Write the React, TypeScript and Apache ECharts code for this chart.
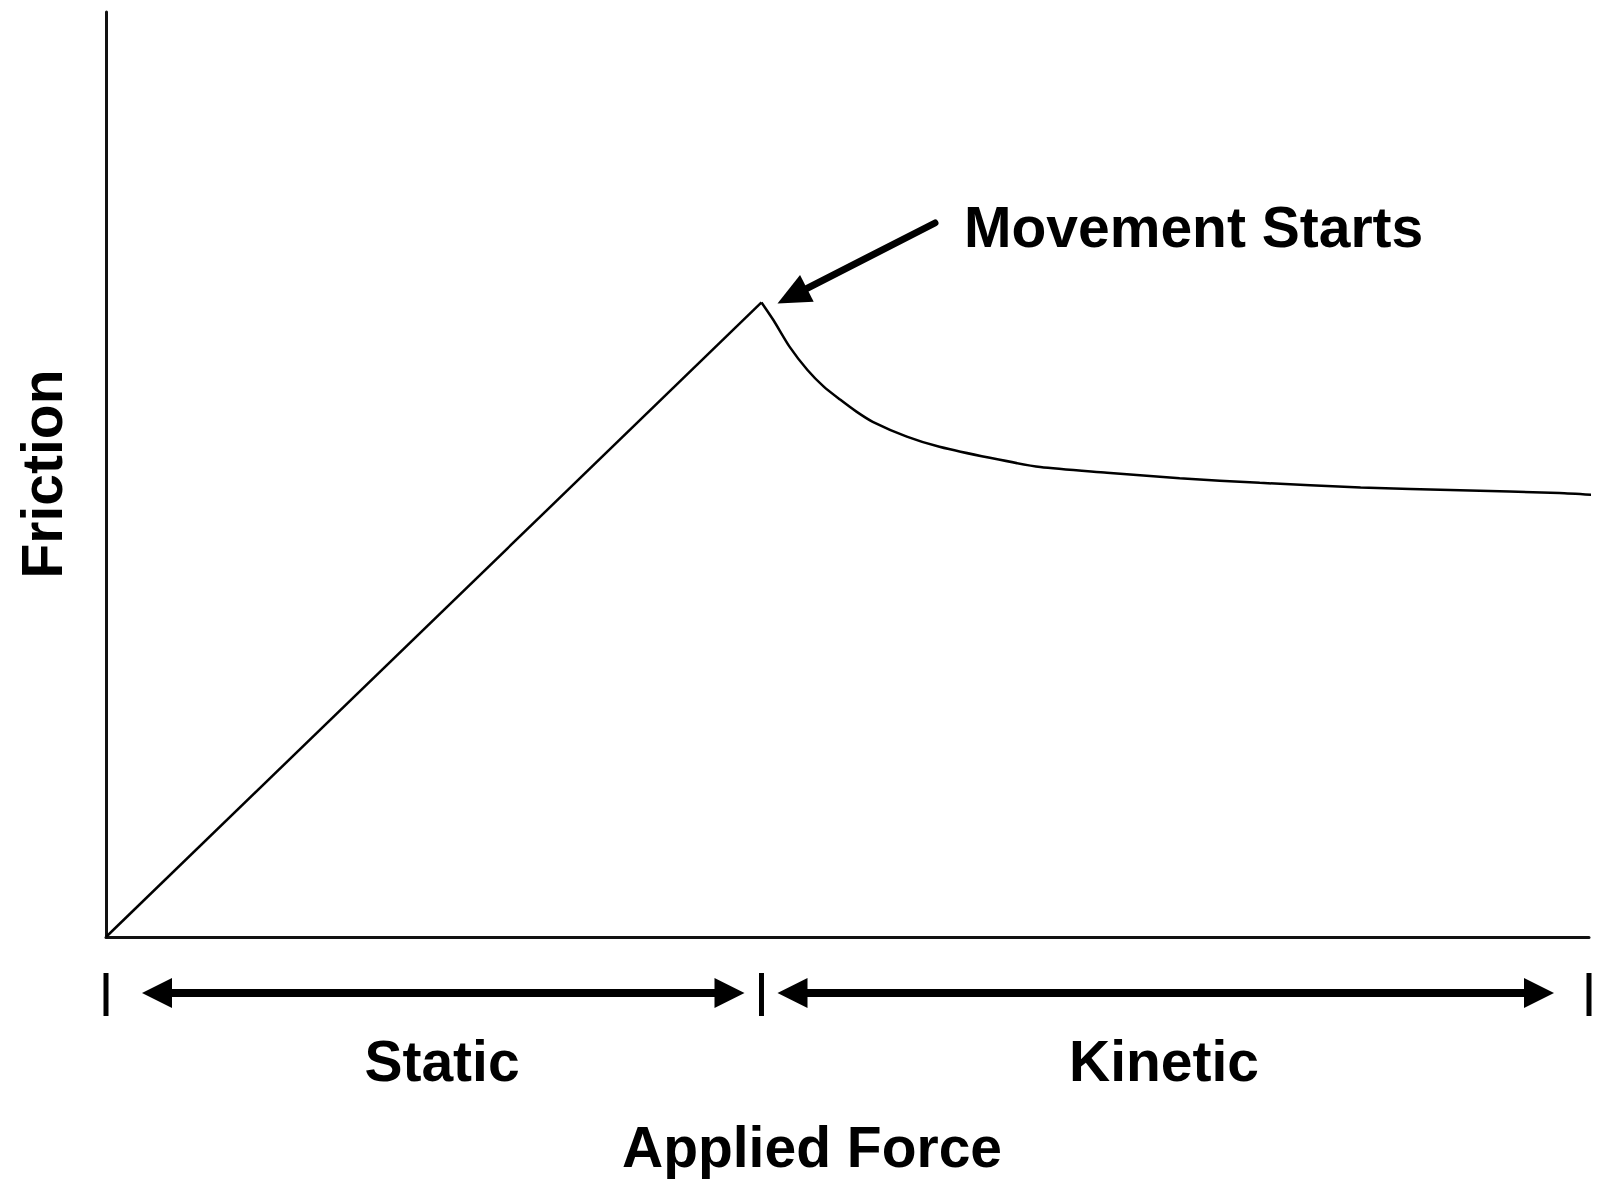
import React, { useEffect, useRef } from "react";
import * as echarts from "echarts";

// Applied force (x, 0–100) and friction (y, 0–100)
const force = [0, 44.2, 45.0, 46.1, 47.3, 48.4, 49.5, 50.6, 51.7, 54.0, 56.2, 59.6, 63.0, 67.5, 72.4, 77.8, 84.6, 91.3, 98.0, 100.2];
const friction = [0, 68.6, 66.7, 63.8, 61.3, 59.5, 58.1, 56.8, 55.7, 54.1, 53.0, 51.8, 50.8, 50.2, 49.6, 49.1, 48.6, 48.3, 48.0, 47.8];
const peakIndex = 1;
const regionLabels = ["Static", "Kinetic"];
const xTitle = "Applied Force";
const yTitle = "Friction";
const annotation = "Movement Starts";

const FONT = "'Liberation Sans', Arial, Helvetica, sans-serif";

export default function App() {
  const ref = useRef<HTMLDivElement>(null);
  useEffect(() => {
    if (!ref.current) return;
    const chart = echarts.init(ref.current, null, { renderer: "svg" });
    const rise = force.slice(0, peakIndex + 1).map((x, i) => [x, friction[i]]);
    const decay = force.slice(peakIndex).map((x, i) => [x, friction[i + peakIndex]]);
    chart.setOption({
      animation: false,
      backgroundColor: "#ffffff",
      grid: { left: 106, top: 12, width: 1483, height: 925, containLabel: false },
      xAxis: {
        type: "value",
        min: 0,
        max: 100,
        axisLine: { show: true, lineStyle: { color: "#111", width: 3 } },
        axisTick: { show: false },
        axisLabel: { show: false },
        splitLine: { show: false },
      },
      yAxis: {
        type: "value",
        min: 0,
        max: 100,
        axisLine: { show: true, lineStyle: { color: "#111", width: 3 } },
        axisTick: { show: false },
        axisLabel: { show: false },
        splitLine: { show: false },
      },
      series: [
        {
          type: "line",
          data: rise,
          symbol: "none",
          clip: false,
          lineStyle: { color: "#000", width: 2.5 },
        },
        {
          type: "line",
          data: decay,
          symbol: "none",
          smooth: 0.25,
          clip: false,
          lineStyle: { color: "#000", width: 2.5 },
        },
      ],
    });

    const px = (x: number, y: number) => chart.convertToPixel({ gridIndex: 0 }, [x, y]) as number[];
    const o = px(0, 0);
    const pk = px(force[peakIndex], friction[peakIndex]);
    const end = px(100, 0);
    const tickXs = [o[0], pk[0], end[0]];
    const arrowY = 993;
    const headLen = 30;
    const headHalf = 15;

    const g: any[] = [];
    tickXs.forEach((x) => {
      g.push({
        type: "line",
        shape: { x1: x, y1: 973, x2: x, y2: 1016 },
        style: { stroke: "#000", lineWidth: 5 },
      });
    });
    const dbl = (a: number, b: number) => {
      g.push({
        type: "line",
        shape: { x1: a + headLen - 2, y1: arrowY, x2: b - headLen + 2, y2: arrowY },
        style: { stroke: "#000", lineWidth: 8 },
      });
      g.push({
        type: "polygon",
        shape: { points: [[a, arrowY], [a + headLen, arrowY - headHalf], [a + headLen, arrowY + headHalf]] },
        style: { fill: "#000" },
      });
      g.push({
        type: "polygon",
        shape: { points: [[b, arrowY], [b - headLen, arrowY - headHalf], [b - headLen, arrowY + headHalf]] },
        style: { fill: "#000" },
      });
    };
    dbl(tickXs[0] + 36, tickXs[1] - 17);
    dbl(tickXs[1] + 16, tickXs[2] - 35);

    // annotation arrow
    const tip = [pk[0] + 16, pk[1] + 1];
    const tail = [935, 223];
    const dx = tail[0] - tip[0];
    const dy = tail[1] - tip[1];
    const len = Math.sqrt(dx * dx + dy * dy);
    const ux = dx / len;
    const uy = dy / len;
    const hl = 33;
    const hw = 15;
    const bx = tip[0] + ux * hl;
    const by = tip[1] + uy * hl;
    g.push({
      type: "line",
      shape: { x1: tail[0], y1: tail[1], x2: bx - ux * 2, y2: by - uy * 2 },
      style: { stroke: "#000", lineWidth: 7, lineCap: "round" },
    });
    g.push({
      type: "polygon",
      shape: { points: [tip, [bx - uy * hw, by + ux * hw], [bx + uy * hw, by - ux * hw]] },
      style: { fill: "#000" },
    });

    const txt = (text: string, x: number, y: number, align: string, rotation = 0) => ({
      type: "text",
      x,
      y,
      rotation,
      style: {
        text,
        fill: "#000",
        font: `bold 57px ${FONT}`,
        textAlign: align,
        textVerticalAlign: "middle",
      },
    });
    g.push(txt(annotation, 964, 227, "left"));
    g.push(txt(regionLabels[0], 442, 1061, "center"));
    g.push(txt(regionLabels[1], 1164, 1061, "center"));
    g.push(txt(xTitle, 812, 1147, "center"));
    g.push(txt(yTitle, 42, 474, "center", Math.PI / 2));

    chart.setOption({ graphic: g });
    return () => chart.dispose();
  }, []);
  return (
    <div
      ref={ref}
      style={{ position: "absolute", left: 0, top: 0, width: 1623, height: 1192, background: "#fff" }}
    />
  );
}
